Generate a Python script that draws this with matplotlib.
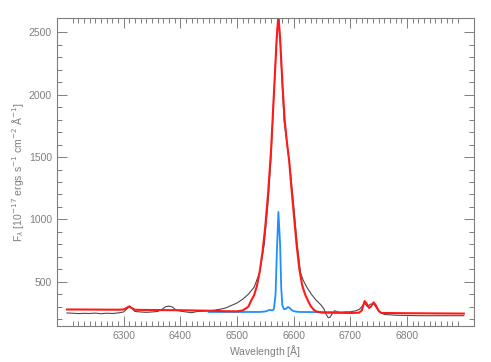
import matplotlib
matplotlib.use('Agg')
import matplotlib.pyplot as plt

# observed spectrum (grey)
obs_wave = [6200, 6210, 6220, 6230, 6240, 6250, 6260, 6270, 6280, 6290, 6300, 6305, 6310, 6315,
            6320, 6330, 6340, 6350, 6360, 6368, 6374, 6380, 6386, 6392, 6400, 6410, 6420, 6430,
            6440, 6450, 6460, 6470, 6480, 6490, 6500, 6510, 6520, 6530, 6540, 6548, 6555, 6560,
            6565, 6570, 6573, 6576, 6580, 6583, 6587, 6590, 6594, 6600, 6606, 6612, 6617, 6624,
            6632, 6640, 6648, 6653, 6657, 6661, 6664, 6668, 6672, 6676, 6682, 6690, 6700, 6710,
            6716, 6720, 6725, 6730, 6735, 6741, 6746, 6752, 6760, 6770, 6780, 6800, 6820, 6850,
            6880, 6900]
obs_flux = [250, 248, 245, 247, 246, 249, 244, 248, 246, 250, 258, 280, 300, 285,
            262, 258, 255, 258, 262, 280, 300, 305, 298, 275, 265, 258, 252, 262,
            264, 268, 272, 280, 290, 310, 330, 360, 400, 455, 575, 800, 1150, 1500,
            2000, 2450, 2640, 2450, 2050, 1790, 1650, 1540, 1390, 1110, 810, 570, 510, 450,
            395, 350, 315, 285, 240, 212, 215, 245, 268, 262, 252, 258, 260, 268,
            280, 300, 330, 300, 320, 325, 290, 255, 238, 235, 232, 230, 228, 228,
            228, 228]

# total model fit (red)
fit_wave = [6200, 6250, 6290, 6300, 6305, 6310, 6315, 6320, 6400, 6450, 6480, 6500, 6510, 6520,
            6525, 6530, 6535, 6540, 6545, 6550, 6555, 6560, 6565, 6570, 6573, 6576, 6580, 6584,
            6588, 6592, 6596, 6600, 6605, 6610, 6615, 6620, 6625, 6630, 6635, 6640, 6650, 6700,
            6715, 6720, 6725, 6728, 6733, 6736, 6741, 6745, 6750, 6755, 6800, 6900]
fit_flux = [278, 277, 276, 278, 290, 303, 288, 275, 272, 268, 264, 263, 270, 300,
            350, 390, 465, 580, 740, 950, 1220, 1550, 2000, 2450, 2640, 2450, 2100, 1800,
            1620, 1470, 1250, 1050, 800, 600, 470, 400, 350, 305, 278, 262, 253, 250,
            252, 270, 345, 330, 290, 300, 335, 310, 265, 250, 248, 245]

# narrow component (blue)
nar_wave = [6450, 6500, 6540, 6550, 6555, 6558, 6562, 6565, 6568, 6570, 6573, 6576, 6578, 6580,
            6583, 6587, 6590, 6593, 6597, 6602, 6610, 6640, 6700]
nar_flux = [258, 258, 258, 262, 270, 275, 270, 280, 400, 700, 1060, 800, 450, 310,
            280, 285, 298, 290, 270, 262, 258, 257, 255]

# axis ticks as drawn in the reference
xmajor = [6300, 6400, 6500, 6600, 6700, 6800]
xminor = [w for w in range(6210, 6900, 10) if w % 100 != 0]
ymajor = [500, 1000, 1500, 2000, 2500]
yminor = [y for y in range(200, 2600, 100) if y % 500 != 0]

plt.rcParams['font.family'] = ['Liberation Sans', 'DejaVu Sans']
axcol = '#7f7f7f'

fig = plt.figure(figsize=(4.91, 3.62), dpi=100)
ax = fig.add_axes([0.1155, 0.1003, 0.8499, 0.8491])

ax.plot(obs_wave, obs_flux, color='#4a4a4a', lw=0.8)
ax.plot(nar_wave, nar_flux, color='#1e8fff', lw=1.3)
ax.plot(fit_wave, fit_flux, color='#ff1a1a', lw=1.5)

ax.set_xlim(6182, 6918)
ax.set_ylim(148, 2612)
ax.set_xticks(xmajor)
ax.set_xticks(xminor, minor=True)
ax.set_yticks(ymajor)
ax.set_yticks(yminor, minor=True)
ax.tick_params(which='both', direction='in', top=True, right=True, colors=axcol,
               labelsize=7.5, width=0.7)
ax.tick_params(which='major', length=7)
ax.tick_params(which='minor', length=3.5)
for s in ax.spines.values():
    s.set_color(axcol)
    s.set_linewidth(0.8)

ax.set_xlabel('Wavelength [$\\rm\\AA$]', color=axcol, fontsize=7.5, labelpad=1.5)
ax.set_ylabel('F$_\\lambda$ [10$^{-17}$ ergs s$^{-1}$ cm$^{-2}$ $\\rm\\AA^{-1}$]',
              color=axcol, fontsize=7.5, labelpad=2)

fig.savefig('out.png', dpi=100)
